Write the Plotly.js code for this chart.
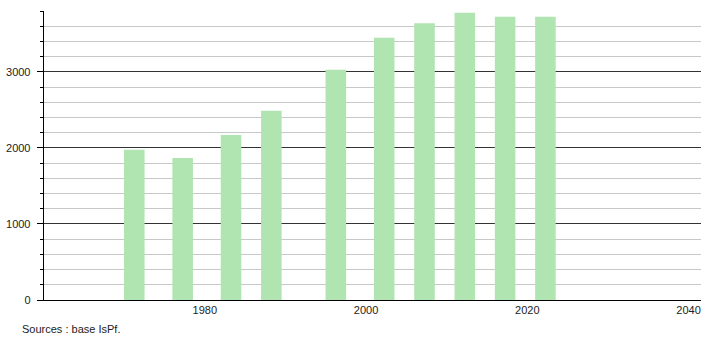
<!DOCTYPE html>
<html>
<head>
<meta charset="utf-8">
<script src="https://cdn.plot.ly/plotly-3.0.1.min.js"></script>
<style>html,body{margin:0;padding:0;background:#fff;}#chart{width:710px;height:340px;}</style>
</head>
<body>
<div id="chart"></div>
<script>
const years = [1971, 1977, 1983, 1988, 1996, 2002, 2007, 2012, 2017, 2022];
const population = [1974, 1868, 2171, 2487, 3026, 3447, 3640, 3776, 3724, 3724];
const xTickVals = [1980, 2000, 2020, 2040];
const xTickText = ['1980', '2000', '2020', '2040'];
const yTickVals = [0, 1000, 2000, 3000];
const sourceText = 'Sources : base IsPf.';

const trace = {
  type: 'bar',
  x: years,
  y: population,
  width: 2.55,
  marker: {color: 'rgb(176,228,176)', line: {width: 0}},
  hoverinfo: 'x+y'
};

const layout = {
  width: 710, height: 340,
  margin: {l: 44, r: 9, t: 11, b: 40, pad: 0},
  paper_bgcolor: '#fff', plot_bgcolor: '#fff',
  showlegend: false,
  font: {family: 'Liberation Sans, Arial, sans-serif', size: 11, color: '#222'},
  xaxis: {
    range: [1959.8, 2041.3],
    tickvals: xTickVals, ticktext: xTickText,
    ticks: '', showgrid: false, zeroline: false,
    showline: true, linecolor: '#000', linewidth: 1.3,
    tickfont: {size: 11, color: '#222'},
    ticklabelshift: -2,
    ticklabelstandoff: -1,
    fixedrange: true
  },
  yaxis: {
    range: [0, 3800],
    tickvals: yTickVals,
    ticks: 'outside', ticklen: 6, tickcolor: '#000', tickwidth: 1,
    showgrid: true, gridcolor: '#333', gridwidth: 1,
    zeroline: false,
    showline: true, linecolor: '#000', linewidth: 1.3,
    tickfont: {size: 11, color: '#222'},
    ticklabelstandoff: 4,
    minor: {dtick: 200, tick0: 0, ticks: 'outside', ticklen: 3, tickcolor: '#000', showgrid: true, gridcolor: '#c8c8c8', gridwidth: 1},
    fixedrange: true
  },
  annotations: [{
    text: sourceText, xref: 'paper', yref: 'paper', x: 0, y: 0,
    xanchor: 'left', yanchor: 'middle', xshift: -24, yshift: -29,
    showarrow: false, font: {size: 11, color: '#222'}
  }]
};

Plotly.newPlot('chart', [trace], layout, {displayModeBar: false, staticPlot: true});
</script>
</body>
</html>
